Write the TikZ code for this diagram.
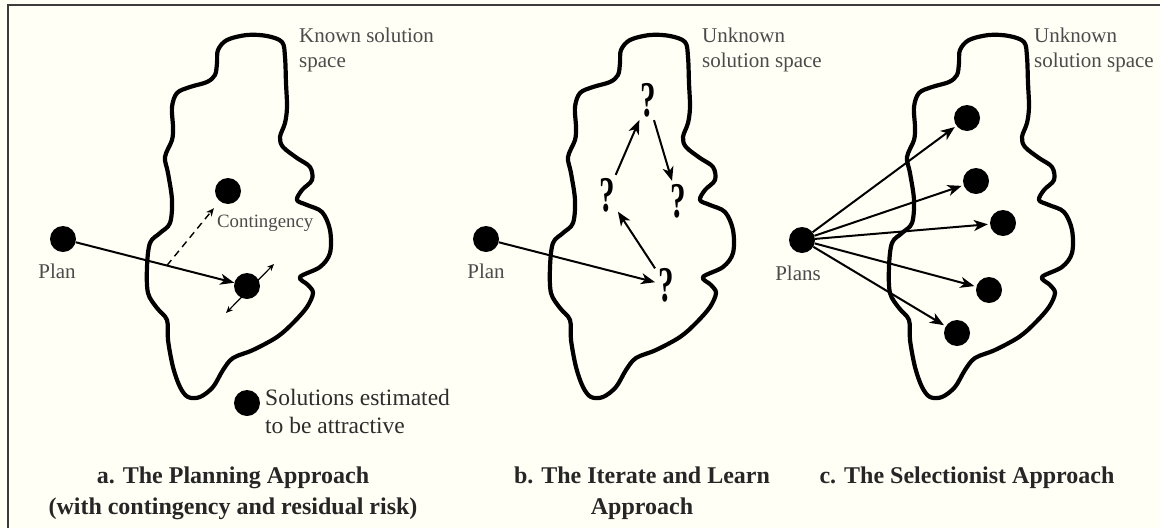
\documentclass[tikz,border=0pt]{standalone}
\usepackage{fontspec}
\setmainfont{Liberation Serif}
\usepackage{tikz}
\usetikzlibrary{positioning, calc, arrows.meta}
\definecolor{paper}{RGB}{255,255,245}
\definecolor{labelgray}{RGB}{75,75,75}
\definecolor{legendgray}{RGB}{45,45,45}
\definecolor{framegray}{RGB}{60,60,60}
\tikzstyle{every dot}=[circle, fill=black, minimum size=26pt, inner sep=0pt]
\tikzstyle{blobline}=[line width=4.2pt, line join=round]
\tikzstyle{arrow}=[-{Stealth[length=14pt,width=11pt,inset=4pt]}, line width=2pt]
\tikzstyle{smallarrow}=[-{Stealth[length=8pt,width=7pt,inset=2.5pt]}, line width=1.4pt]
\tikzstyle{spreadarrow}=[{Stealth[length=7pt,width=6pt]}-{Stealth[length=7pt,width=6pt]}, line width=1.2pt]
\tikzstyle{lbl}=[font=\fontsize{21}{25}\selectfont, text=labelgray, align=left, inner sep=0pt]
\tikzstyle{smalllbl}=[font=\fontsize{18.8}{22}\selectfont, text=labelgray, inner sep=0pt]
\tikzstyle{legendtext}=[font=\fontsize{23.5}{28}\selectfont, text=legendgray, align=left, inner sep=0pt]
\tikzstyle{heading}=[font=\bfseries\fontsize{24}{31}\selectfont, text=black!85, align=center, inner sep=0pt]
\tikzstyle{qmark}=[font=\bfseries\fontsize{50}{50}\selectfont, inner sep=3pt]
\tikzset{blob/.pic={
    \draw[blobline] plot[smooth cycle, tension=0.55] coordinates {
      (218,50) (227,40) (247,35) (267,36) (282,42) (285,57) (286,83) (287,107)
      (285,123) (280,137) (283,147) (297,158) (310,167) (312,180) (302,190)
      (297,200) (307,205) (322,212) (330,230) (330,253) (320,267) (300,277)
      (308,285) (313,293) (307,307) (293,323) (277,337) (253,350) (233,358)
      (223,370) (213,387) (200,397) (188,397) (180,387) (173,367) (168,340)
      (167,320) (157,308) (148,293) (147,267) (150,243) (160,233) (170,223)
      (172,200) (168,173) (165,157) (172,140) (173,127) (172,107) (177,93)
      (190,87) (207,82) (215,75) (217,63)};
}}

\begin{document}
\begin{tikzpicture}[x=1pt, y=-1pt]
    \fill[paper] (0,0) rectangle (1160,528);
    \useasboundingbox (0,0) rectangle (1160,528);
    \coordinate (frame-corner) at (8,5);
    \coordinate (frame-top) at (1160,5);
    \coordinate (frame-bottom) at (8,528);
    \draw[framegray, line width=1.6pt] (frame-bottom) -- (frame-corner) -- (frame-top);

    % solution spaces
    \foreach \dx/\n in {0/a, 403/b, 742/c}
    \pic (space-\n) at (\dx,0) {blob};

    % a. planning
    \node[every dot] (plan-a) at (63,239) {};
    \node[every dot] (contingency) at (228,191) {};
    \node[every dot] (target) at (247,286) {};
    \node[every dot] (legend) at (247,403) {};

    \draw [arrow] (plan-a) -- coordinate[pos=0.575] (branch) (target);
    \draw [smallarrow, dash pattern=on 7pt off 5pt, shorten >=9pt] (branch) -- (contingency);

    \coordinate (spread-1) at ($(target)+(-21,27)$);
    \coordinate (spread-2) at ($(target)+(27,-22)$);
    \draw [spreadarrow] (spread-1) -- (spread-2);

    \node[lbl, anchor=base] (plan-a-text) at (57,278) {Plan};
    \node[smalllbl, anchor=base west] (contingency-text) at (217,227) {Contingency};
    \node[lbl, anchor=north west] (space-a-text) at (299,28) {Known solution\\space};
    \node[legendtext, anchor=north west] (legend-text) at (265,389) {Solutions estimated\\to be attractive};

    % b. iterate and learn
    \node[every dot] (plan-b) at (486,239) {};
    \foreach \x/\y [count=\i] in {666/285, 607/195, 648/100, 678/201}
    \node[qmark] (q-\i) at (\x,\y) {\scalebox{0.62}[1]{?}};

    \draw [arrow] (plan-b) -- (q-1);
    \foreach \i/\j in {1/2, 2/3, 3/4}
    \draw [arrow] (q-\i) -- (q-\j);

    \node[lbl, anchor=base] (plan-b-text) at (486,278) {Plan};
    \node[lbl, anchor=north west] (space-b-text) at (702,28) {Unknown\\solution space};

    % c. selectionist
    \node[every dot] (plans) at (802,240) {};
    \foreach \x/\y [count=\i] in {967/118, 976/181, 1003/223, 989/290, 957/333}
    \node[every dot] (pick-\i) at (\x,\y) {};

    \foreach \i in {1,...,5}
    \draw [arrow, shorten >=2pt] (plans) -- (pick-\i);

    \node[lbl, anchor=base] (plans-text) at (798,280) {Plans};
    \node[lbl, anchor=north west] (space-c-text) at (1034,28) {Unknown\\solution space};

    % captions
    \node[heading, anchor=north] (head-a) at (233,467) {a. The Planning Approach\\(with contingency and residual risk)};
    \node[heading, anchor=north] (head-b) at (642,467) {b. The Iterate and Learn\\Approach};
    \node[heading, anchor=north] (head-c) at (967,467) {c. The Selectionist Approach};

\end{tikzpicture}
\end{document}
